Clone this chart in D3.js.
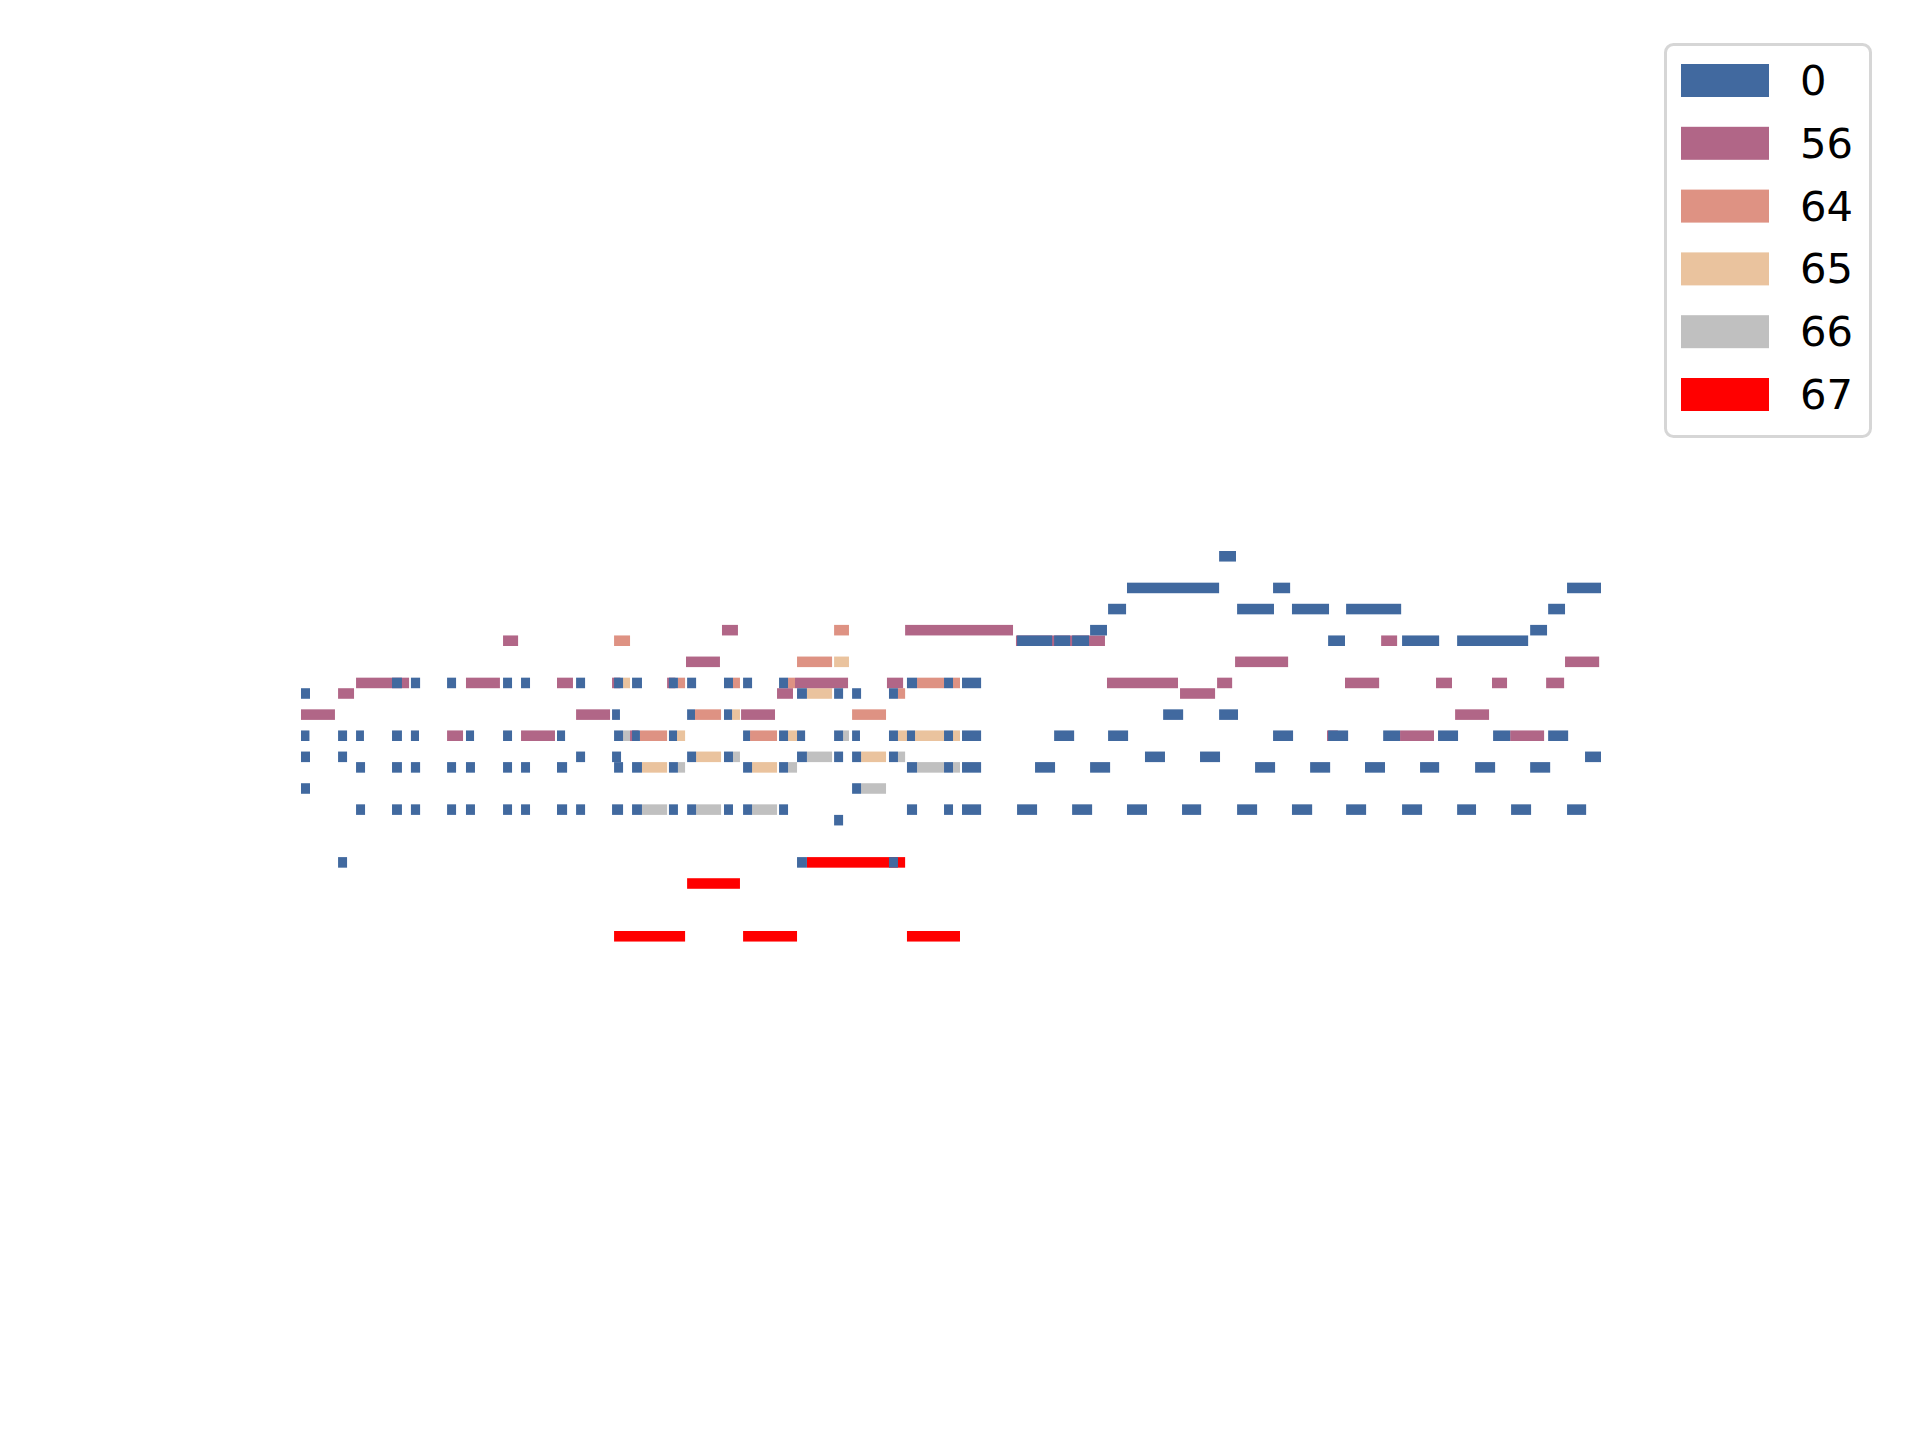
<!DOCTYPE html>
<html>
<head>
<meta charset="utf-8">
<script src="https://cdn.jsdelivr.net/npm/d3@7"></script>
<style>
html, body { margin: 0; padding: 0; background: #ffffff; }
svg { display: block; }
</style>
</head>
<body>
<svg id="chart" width="1920" height="1440"></svg>
<script>
// ---- data (time in beats, pitch in MIDI numbers) ----
const programs = [0, 56, 64, 65, 66, 67];
const colors = ["#41699f", "#b16687", "#de9283", "#eac39e", "#c0c0c0", "#ff0000"];

// each note: [pitch, start, end]
const notesProg0 = [
  [84, 50.03, 50.95],
  [81, 45.01, 50.03], [81, 52.97, 53.90], [81, 68.99, 70.84],
  [79, 43.98, 44.96], [79, 51.01, 53.02], [79, 54.0, 56.02], [79, 56.95, 59.95], [79, 67.96, 68.88],
  [77, 43.0, 43.92], [77, 66.98, 67.90],
  [76, 39.02, 40.93], [76, 41.04, 41.91], [76, 42.02, 42.94], [76, 55.97, 56.89], [76, 60.0, 62.02], [76, 63.0, 66.87],
  [72, 4.96, 5.50], [72, 5.99, 6.49], [72, 7.96, 8.45], [72, 11.01, 11.50], [72, 11.99, 12.48], [72, 14.99, 15.48],
  [72, 17.06, 17.55], [72, 18.04, 18.58], [72, 20.05, 20.54], [72, 21.04, 21.53], [72, 23.05, 23.54], [72, 24.09, 24.58],
  [72, 26.05, 26.54], [72, 33.02, 33.57], [72, 35.04, 35.53], [72, 36.02, 37.06],
  [71, 0, 0.49], [71, 27.03, 27.57], [71, 29.05, 29.54], [71, 30.03, 30.52], [71, 32.04, 32.53],
  [69, 16.95, 17.38], [69, 21.04, 21.47], [69, 23.05, 23.49], [69, 46.98, 48.07], [69, 50.03, 51.06],
  [67, 0, 0.46], [67, 2.02, 2.51], [67, 3.0, 3.43], [67, 4.96, 5.50], [67, 5.99, 6.43], [67, 8.99, 9.43],
  [67, 11.01, 11.50], [67, 13.95, 14.39], [67, 17.06, 17.55], [67, 18.04, 18.47], [67, 20.05, 20.49],
  [67, 24.09, 24.47], [67, 26.05, 26.54], [67, 27.03, 27.47], [67, 29.05, 29.54], [67, 30.03, 30.46],
  [67, 32.04, 32.53], [67, 33.02, 33.46], [67, 35.04, 35.53], [67, 36.02, 37.06], [67, 41.04, 42.13],
  [67, 43.98, 45.07], [67, 52.97, 54.06], [67, 55.97, 57.06], [67, 58.97, 59.89], [67, 61.96, 63.05],
  [67, 64.96, 65.89], [67, 67.96, 69.05],
  [65, 0, 0.49], [65, 2.02, 2.51], [65, 14.99, 15.48], [65, 16.95, 17.44], [65, 21.04, 21.53], [65, 23.05, 23.54],
  [65, 27.03, 27.57], [65, 29.05, 29.54], [65, 30.03, 30.52], [65, 32.04, 32.53], [65, 45.99, 47.08],
  [65, 48.99, 50.08], [65, 69.97, 70.84],
  [64, 3.0, 3.49], [64, 4.96, 5.50], [64, 5.99, 6.49], [64, 7.96, 8.45], [64, 8.99, 9.48], [64, 11.01, 11.50],
  [64, 11.99, 12.48], [64, 13.95, 14.50], [64, 17.06, 17.55], [64, 18.04, 18.58], [64, 20.05, 20.54],
  [64, 24.09, 24.58], [64, 26.05, 26.54], [64, 33.02, 33.57], [64, 35.04, 35.53], [64, 36.02, 37.06],
  [64, 40.0, 41.09], [64, 43.0, 44.09], [64, 51.99, 53.08], [64, 54.99, 56.08], [64, 57.98, 59.07],
  [64, 60.98, 62.02], [64, 63.98, 65.07], [64, 66.98, 68.07],
  [62, 0, 0.49], [62, 30.03, 30.52],
  [60, 3.0, 3.49], [60, 4.96, 5.50], [60, 5.99, 6.49], [60, 7.96, 8.45], [60, 8.99, 9.48], [60, 11.01, 11.50],
  [60, 11.99, 12.48], [60, 13.95, 14.50], [60, 14.99, 15.48], [60, 16.95, 17.55], [60, 18.04, 18.58],
  [60, 20.05, 20.54], [60, 21.04, 21.53], [60, 23.05, 23.54], [60, 24.09, 24.58], [60, 26.05, 26.54],
  [60, 33.02, 33.57], [60, 35.04, 35.53], [60, 36.02, 37.06], [60, 39.02, 40.11], [60, 42.02, 43.11],
  [60, 45.01, 46.10], [60, 48.01, 49.05], [60, 51.01, 52.10], [60, 54.0, 55.10], [60, 56.95, 58.04],
  [60, 60.0, 61.09], [60, 63.0, 64.03], [60, 65.94, 67.03], [60, 68.99, 70.03],
  [59, 29.05, 29.54],
  [55, 2.02, 2.51], [55, 27.03, 27.57], [55, 32.04, 32.53]
];

const notesProg56 = [
  [77, 22.94, 23.81], [77, 32.92, 38.80],
  [76, 11.01, 11.83], [76, 38.96, 43.81], [76, 58.86, 59.73],
  [74, 20.98, 22.83], [74, 50.90, 53.79], [74, 68.88, 70.74],
  [72, 3.0, 5.89], [72, 8.99, 10.84], [72, 13.95, 14.82], [72, 16.95, 17.40], [72, 19.95, 20.40],
  [72, 26.92, 29.81], [72, 31.93, 32.81], [72, 43.92, 47.79], [72, 49.92, 50.74], [72, 56.89, 58.75],
  [72, 61.85, 62.72], [72, 64.90, 65.72], [72, 67.85, 68.83],
  [71, 2.02, 2.89], [71, 25.94, 26.81], [71, 47.90, 49.81],
  [69, 0, 1.85], [69, 14.99, 16.84], [69, 23.98, 25.83], [69, 62.89, 64.74],
  [67, 7.96, 8.83], [67, 11.99, 13.84], [67, 17.93, 18.40], [67, 55.91, 56.50], [67, 59.89, 61.74], [67, 65.89, 67.74]
];

const notesProg64 = [
  [77, 29.05, 29.86],
  [76, 17.06, 17.93],
  [74, 27.03, 28.94],
  [72, 20.54, 20.93], [72, 23.54, 23.92], [72, 26.54, 26.92], [72, 33.57, 35.04], [72, 35.53, 35.91],
  [71, 32.53, 32.92],
  [69, 21.47, 22.89], [69, 30.03, 31.88],
  [67, 18.47, 19.95], [67, 24.47, 25.94]
];

const notesProg65 = [
  [74, 29.05, 29.86],
  [72, 17.55, 17.93],
  [71, 27.57, 28.94],
  [69, 23.49, 23.92],
  [67, 20.49, 20.93], [67, 26.54, 27.03], [67, 32.53, 33.02], [67, 33.46, 35.04], [67, 35.53, 35.91],
  [65, 21.53, 22.89], [65, 30.52, 31.88],
  [64, 18.58, 19.95], [64, 24.58, 25.94]
];

const notesProg66 = [
  [67, 17.55, 17.93], [67, 29.54, 29.86],
  [65, 23.54, 23.92], [65, 27.57, 28.94], [65, 32.53, 32.92],
  [64, 20.54, 20.93], [64, 26.54, 27.03], [64, 33.57, 35.04], [64, 35.53, 35.91],
  [62, 30.52, 31.88],
  [60, 18.58, 19.95], [60, 21.53, 22.89], [60, 24.58, 25.94]
];

const notesProg67 = [
  [55, 27.57, 32.92],
  [53, 21.04, 23.92],
  [48, 17.06, 20.93], [48, 24.09, 27.03], [48, 33.02, 35.91]
];

// ---- drawing ----
const tracks = [notesProg0, notesProg56, notesProg64, notesProg65, notesProg66, notesProg67];

const svg = d3.select("#chart");
svg.append("rect").attr("width", 1920).attr("height", 1440).attr("fill", "#ffffff");

const x = d3.scaleLinear().domain([0, 70.84]).range([301, 1601]);
const y = d3.scaleLinear().domain([84, 48]).range([551, 931]);
const rowH = y(83) - y(84);

const plot = svg.append("g").attr("class", "plot");
// draw in reverse order so program 0 is on top
for (let i = tracks.length - 1; i >= 0; i--) {
  plot.append("g")
    .attr("class", "track-" + programs[i])
    .selectAll("rect")
    .data(tracks[i])
    .join("rect")
    .attr("x", d => x(d[1]))
    .attr("y", d => y(d[0]))
    .attr("width", d => x(d[2]) - x(d[1]))
    .attr("height", rowH)
    .attr("fill", colors[i]);
}

// ---- legend ----
const legend = svg.append("g").attr("class", "legend");
legend.append("rect")
  .attr("x", 1665.5).attr("y", 44.5)
  .attr("width", 205).attr("height", 392)
  .attr("rx", 8).attr("ry", 8)
  .attr("fill", "#ffffff")
  .attr("stroke", "#d6d6d6")
  .attr("stroke-width", 3);

const ly = d3.scaleLinear().domain([0, 5]).range([64, 378]);
const items = legend.selectAll("g.item").data(programs).join("g").attr("class", "item");
items.append("rect")
  .attr("x", 1681).attr("y", (d, i) => ly(i))
  .attr("width", 88).attr("height", 33)
  .attr("fill", (d, i) => colors[i]);
items.append("text")
  .attr("x", 1800).attr("y", (d, i) => ly(i) + 16.5 + 14.5)
  .attr("font-family", "DejaVu Sans")
  .attr("font-size", 41.67)
  .attr("fill", "#000000")
  .text(d => d);
</script>
</body>
</html>
